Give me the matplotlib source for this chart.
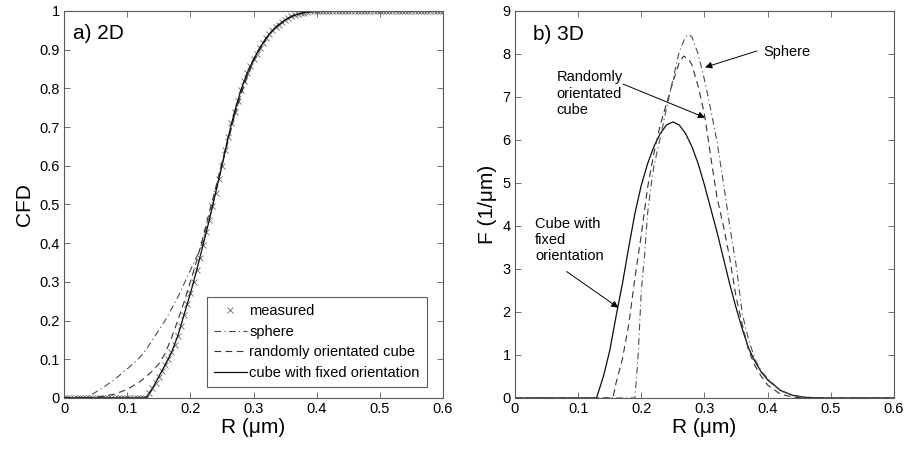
import numpy as np
import matplotlib
matplotlib.use("Agg")
import matplotlib.pyplot as plt

plt.rcParams['font.family'] = ['Liberation Sans', 'DejaVu Sans']

# ---- a) 2D cumulative distributions ----
measured_cfd = [0] * 27 + [
    0.012, 0.025, 0.04, 0.055, 0.07, 0.085, 0.10, 0.118, 0.138, 0.16,
    0.187, 0.215, 0.242, 0.27, 0.30, 0.33, 0.362, 0.395, 0.428, 0.46,
    0.495, 0.53, 0.565, 0.60, 0.64, 0.675, 0.71, 0.74, 0.768, 0.795,
    0.818, 0.84, 0.858, 0.875, 0.89, 0.905, 0.918, 0.93, 0.94, 0.95,
    0.958, 0.965, 0.971, 0.977, 0.982, 0.986, 0.989, 0.992, 0.994, 0.996,
    0.998, 0.999, 1.0] + [1.0] * 41
measured_r = np.linspace(0, 0.6, len(measured_cfd))

cfd_r = [0, 0.03, 0.04, 0.06, 0.08, 0.10, 0.12, 0.13, 0.14, 0.15, 0.16, 0.17,
         0.18, 0.19, 0.20, 0.21, 0.22, 0.23, 0.24, 0.25, 0.26, 0.27, 0.28,
         0.29, 0.30, 0.31, 0.32, 0.33, 0.34, 0.35, 0.36, 0.37, 0.38, 0.40,
         0.42, 0.6]
sphere_cfd = [0, 0, 0.005, 0.025, 0.048, 0.075, 0.105, 0.125, 0.15, 0.175,
              0.2, 0.23, 0.26, 0.295, 0.33, 0.365, 0.405, 0.465, 0.53, 0.6,
              0.665, 0.73, 0.785, 0.832, 0.872, 0.903, 0.93, 0.95, 0.966,
              0.977, 0.986, 0.992, 0.996, 0.999, 1.0, 1.0]
random_cfd = [0, 0, 0, 0.004, 0.01, 0.022, 0.042, 0.055, 0.07, 0.088,
              0.115, 0.155, 0.2, 0.248, 0.3, 0.355, 0.415, 0.48, 0.543,
              0.608, 0.67, 0.73, 0.785, 0.83, 0.87, 0.9, 0.928, 0.948,
              0.963, 0.975, 0.985, 0.991, 0.995, 0.999, 1.0, 1.0]
fixed_cfd = [0, 0, 0, 0, 0, 0, 0, 0, 0.025, 0.055, 0.085, 0.117, 0.16,
             0.215, 0.27, 0.33, 0.395, 0.46, 0.53, 0.60, 0.675, 0.74,
             0.795, 0.84, 0.875, 0.905, 0.93, 0.95, 0.965, 0.977, 0.986,
             0.992, 0.996, 1.0, 1.0, 1.0]

# ---- b) 3D densities ----
fixed_r = [0, 0.129, 0.14, 0.15, 0.16, 0.17, 0.18, 0.19, 0.20, 0.21, 0.22,
           0.23, 0.24, 0.25, 0.26, 0.27, 0.28, 0.29, 0.30, 0.31, 0.32, 0.33,
           0.34, 0.35, 0.36, 0.37, 0.38, 0.39, 0.40, 0.42, 0.44, 0.46,
           0.49, 0.6]
fixed_f = [0, 0, 0.5, 1.1, 1.9, 2.65, 3.5, 4.3, 4.95, 5.45, 5.85, 6.15, 6.35,
           6.42, 6.35, 6.15, 5.85, 5.45, 4.95, 4.4, 3.85, 3.25, 2.65, 2.1,
           1.6, 1.15, 0.85, 0.6, 0.42, 0.18, 0.06, 0.015, 0, 0]

random_r = [0, 0.155, 0.16, 0.17, 0.18, 0.19, 0.20, 0.21, 0.22, 0.23, 0.24,
            0.25, 0.26, 0.267, 0.275, 0.28, 0.29, 0.30, 0.31, 0.32, 0.33,
            0.34, 0.35, 0.36, 0.37, 0.38, 0.39, 0.40, 0.42, 0.44, 0.46, 0.6]
random_f = [0, 0, 0.35, 0.9, 1.7, 2.8, 3.8, 4.9, 5.7, 6.35, 6.85, 7.35, 7.8,
            7.95, 7.88, 7.75, 7.25, 6.6, 5.6, 4.65, 4.0, 3.25, 2.35, 1.7,
            1.1, 0.75, 0.5, 0.3, 0.09, 0.02, 0, 0]

sphere_r = [0, 0.19, 0.195, 0.20, 0.205, 0.21, 0.215, 0.22, 0.23, 0.24,
            0.25, 0.26, 0.27, 0.275, 0.28, 0.29, 0.30, 0.31, 0.32, 0.33,
            0.34, 0.35, 0.36, 0.37, 0.38, 0.39, 0.40, 0.42, 0.44, 0.46,
            0.48, 0.6]
sphere_f = [0, 0, 1.0, 2.5, 3.3, 4.3, 4.9, 5.4, 6.05, 6.75, 7.4, 8.05, 8.4,
            8.45, 8.4, 8.0, 7.4, 6.7, 5.95, 5.0, 4.0, 3.1, 1.95, 1.35, 0.9,
            0.62, 0.46, 0.17, 0.06, 0.015, 0, 0]

xticks = [0, 0.1, 0.2, 0.3, 0.4, 0.5, 0.6]
xticklabels = ['0', '0.1', '0.2', '0.3', '0.4', '0.5', '0.6']

dash = (0, (6, 4))
dashdot = (0, (6, 3, 1, 3))


def style_axes(ax):
    for s in ax.spines.values():
        s.set_color('0.35')
        s.set_linewidth(0.8)
    ax.tick_params(direction='in', length=4, width=0.6, color='0.35',
                   top=True, right=True, labelsize=10.5, pad=3)
    ax.set_xlim(0, 0.6)
    ax.set_xticks(xticks)
    ax.set_xticklabels(xticklabels)


fig = plt.figure(figsize=(9.11, 4.49), dpi=100)
ax1 = fig.add_axes([0.0703, 0.1136, 0.416, 0.862])
ax2 = fig.add_axes([0.5653, 0.1136, 0.416, 0.862])

# left panel
ax1.plot(measured_r, measured_cfd, linestyle='none', marker='x', ms=5,
         mew=0.6, color='0.4', label='measured')
ax1.plot(cfd_r, sphere_cfd, linestyle=dashdot, lw=0.8, color='0.3',
         label='sphere')
ax1.plot(cfd_r, random_cfd, linestyle=dash, lw=0.8, color='0.2',
         label='randomly orientated cube')
ax1.plot(cfd_r, fixed_cfd, linestyle='-', lw=0.9, color='0.05',
         label='cube with fixed orientation')
style_axes(ax1)
ax1.set_ylim(0, 1)
yt = [0, 0.1, 0.2, 0.3, 0.4, 0.5, 0.6, 0.7, 0.8, 0.9, 1]
ax1.set_yticks(yt)
ax1.set_yticklabels(['0', '0.1', '0.2', '0.3', '0.4', '0.5', '0.6', '0.7',
                     '0.8', '0.9', '1'])
ax1.set_xlabel('R (μm)', fontsize=15, labelpad=1)
ax1.set_ylabel('CFD', fontsize=15, labelpad=4)
ax1.text(0.024, 0.943, 'a) 2D', transform=ax1.transAxes, fontsize=15,
         va='center', ha='left')
leg = ax1.legend(loc='lower right', bbox_to_anchor=(0.958, 0.028),
                 fontsize=10.5, frameon=True, fancybox=False,
                 handlelength=2.2, handletextpad=0.2, borderpad=0.5,
                 labelspacing=0.45, borderaxespad=0)
leg.get_frame().set_edgecolor('0.2')
leg.get_frame().set_linewidth(0.8)

# right panel
ax2.plot(fixed_r, fixed_f, linestyle='-', lw=0.9, color='0.05')
ax2.plot(random_r, random_f, linestyle=dash, lw=0.8, color='0.2')
ax2.plot(sphere_r, sphere_f, linestyle=dashdot, lw=0.8, color='0.3')
style_axes(ax2)
ax2.set_ylim(0, 9)
ax2.set_yticks(range(10))
ax2.set_xlabel('R (μm)', fontsize=15, labelpad=1)
ax2.set_ylabel('F (1/μm)', fontsize=15, labelpad=4)
ax2.text(0.047, 0.94, 'b) 3D', transform=ax2.transAxes, fontsize=15,
         va='center', ha='left')

arrow = dict(arrowstyle='-|>', color='black', lw=0.7, mutation_scale=10,
             shrinkA=0, shrinkB=0)
ax2.text(0.3926, 8.04, 'Sphere', fontsize=10.5, va='center', ha='left')
ax2.annotate('', xy=(0.301, 7.69), xytext=(0.383, 8.07), arrowprops=arrow)
ax2.text(0.066, 7.08, 'Randomly\norientated\ncube', fontsize=10.5,
         va='center', ha='left', linespacing=1.2)
ax2.annotate('', xy=(0.3008, 6.52), xytext=(0.171, 7.30), arrowprops=arrow)
ax2.text(0.0317, 3.68, 'Cube with\nfixed\norientation', fontsize=10.5,
         va='center', ha='left', linespacing=1.2)
ax2.annotate('', xy=(0.1636, 2.10), xytext=(0.0818, 2.94), arrowprops=arrow)

fig.savefig('out.png', dpi=100)
